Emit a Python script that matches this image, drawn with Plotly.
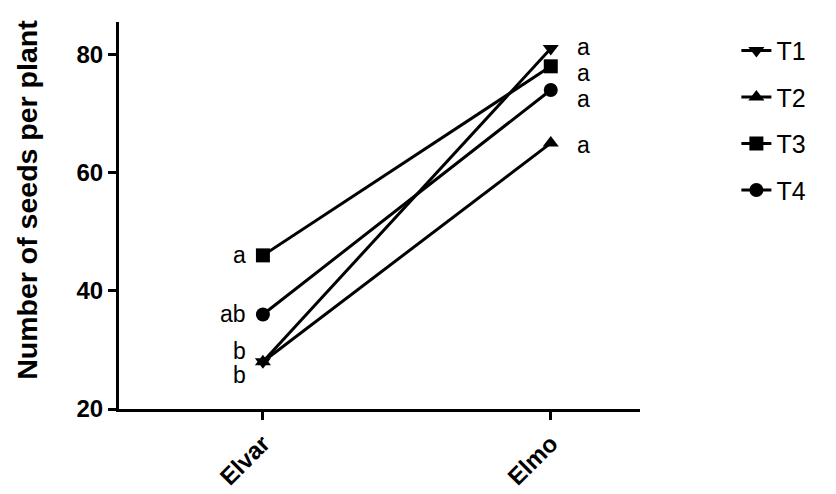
import plotly.graph_objects as go

cultivars = ["Elvar", "Elmo"]
treatments = ["T1", "T2", "T3", "T4"]
seeds_T1 = [28, 81]
seeds_T2 = [28, 65]
seeds_T3 = [46, 78]
seeds_T4 = [36, 74]
letters_T1 = ["b", "a"]
letters_T2 = ["b", "a"]
letters_T3 = ["a", "a"]
letters_T4 = ["ab", "a"]
y_ticks = [20, 40, 60, 80]

series = [seeds_T1, seeds_T2, seeds_T3, seeds_T4]
letters = [letters_T1, letters_T2, letters_T3, letters_T4]
symbols = ["triangle-down", "triangle-up", "square", "circle"]
xpos = list(range(len(cultivars)))

FONT = "Liberation Sans, Arial"

fig = go.Figure()
for name, vals, sym in zip(treatments, series, symbols):
    fig.add_trace(go.Scatter(
        x=xpos, y=vals, name=name, mode="lines+markers",
        line=dict(color="black", width=3),
        marker=dict(symbol=sym, size=14, color="black"),
        legendgroup=name,
    ))

# significance letters: left of Elvar points, right of Elmo points
elvar_shift = {"T1": 11, "T2": -13, "T3": 0, "T4": 0}
elmo_shift = {"T1": 2, "T2": -2, "T3": -7, "T4": -9}
for name, vals, labs in zip(treatments, series, letters):
    fig.add_annotation(x=xpos[0], y=vals[0], text=labs[0], showarrow=False,
                       xanchor="right", xshift=-16, yshift=elvar_shift[name],
                       borderpad=0,
                       font=dict(size=23, color="black", family=FONT))
    fig.add_annotation(x=xpos[1], y=vals[1], text=labs[1], showarrow=False,
                       xanchor="left", xshift=25, yshift=elmo_shift[name],
                       borderpad=0,
                       font=dict(size=23, color="black", family=FONT))

# y-axis title
fig.add_annotation(xref="paper", yref="paper", x=-0.177, y=0.54,
                   text="<b>Number of seeds per plant</b>", textangle=-90,
                   showarrow=False, xanchor="center", yanchor="middle",
                   font=dict(size=28.5, color="black", family=FONT))

fig.update_layout(
    width=836, height=494,
    margin=dict(l=119, r=196, t=22, b=85),
    plot_bgcolor="white", paper_bgcolor="white",
    font=dict(family=FONT, color="black"),
    showlegend=True,
    legend=dict(x=1.185, y=0.985, xanchor="left", yanchor="top",
                font=dict(size=25), tracegroupgap=11, traceorder="grouped",
                bgcolor="rgba(0,0,0,0)"),
    xaxis=dict(
        range=[-0.5, 1.31], tickvals=xpos, ticktext=["<b>%s</b>" % c for c in cultivars],
        tickangle=-45, tickfont=dict(size=24), showgrid=False, zeroline=False,
        showline=True, linecolor="black", linewidth=3, automargin=False,
        ticks="outside", ticklen=8, tickwidth=3, tickcolor="black",
    ),
    yaxis=dict(
        range=[20, 85.5], tickvals=y_ticks, ticktext=["<b>%d</b>" % v for v in y_ticks],
        tickfont=dict(size=24), showgrid=False, zeroline=False, automargin=False,
        showline=True, linecolor="black", linewidth=3,
        ticks="outside", ticklen=8, tickwidth=3, tickcolor="black",
    ),
)

fig.write_html("out.html")
